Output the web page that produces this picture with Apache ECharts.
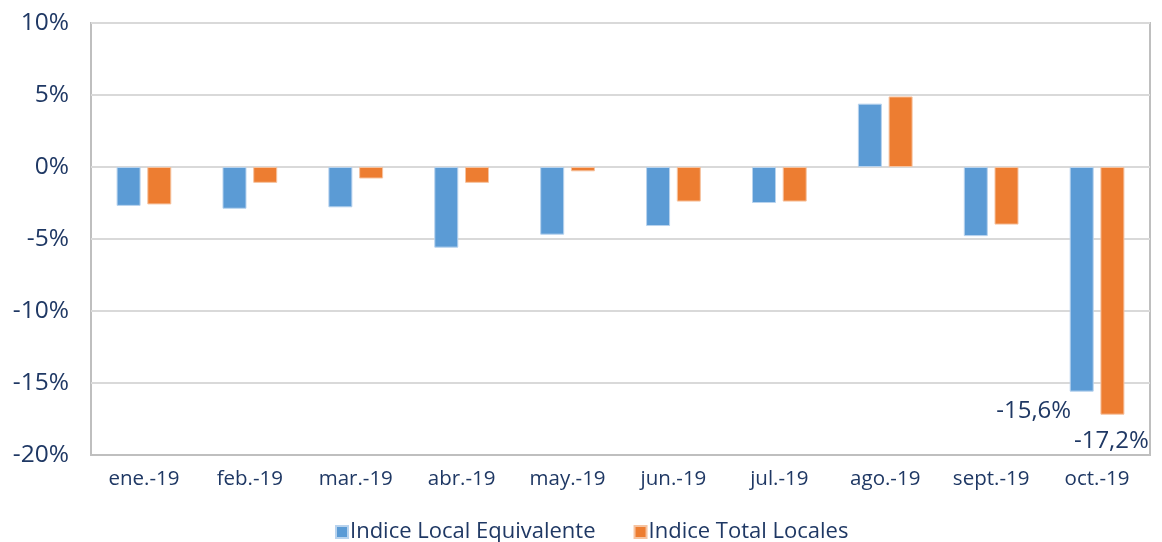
<!DOCTYPE html>
<html>
<head>
<meta charset="utf-8">
<script src="https://cdn.jsdelivr.net/npm/echarts@6/dist/echarts.min.js"></script>
<style>
  html, body { margin: 0; padding: 0; background: #fff; }
  #chart { width: 1162px; height: 542px; }
</style>
</head>
<body>
<div id="chart"></div>
<script>
// datos (en %)
var months = ['ene.-19', 'feb.-19', 'mar.-19', 'abr.-19', 'may.-19', 'jun.-19', 'jul.-19', 'ago.-19', 'sept.-19', 'oct.-19']
var localEquivalente = [-2.7, -2.9, -2.8, -5.6, -4.7, -4.1, -2.5, 4.4, -4.8, -15.6]
var totalLocales = [-2.6, -1.1, -0.8, -1.1, -0.3, -2.4, -2.4, 4.9, -4.0, -17.2]

var textColor = '#1f3864'
var font = '"Open Sans", "Noto Sans", sans-serif'

// solo el último mes lleva etiqueta
function lastLabel (values, offset) {
  return values.map(function (v, i) {
    if (i !== values.length - 1) return v
    return {
      value: v,
      label: {
        show: true,
        position: 'bottom',
        offset: offset,
        distance: 4,
        color: textColor,
        fontFamily: font,
        fontSize: 24,
        formatter: function (p) { return p.value.toFixed(1).replace('.', ',') + '%' }
      }
    }
  })
}

var chart = echarts.init(document.getElementById('chart'))
chart.setOption({
  animation: false,
  textStyle: { fontFamily: font },
  grid: {
    left: 91,
    right: 12,
    top: 23,
    bottom: 87,
    show: true,
    borderColor: '#bfbfbf',
    borderWidth: 2
  },
  legend: {
    left: 330,
    top: 516,
    itemWidth: 12,
    itemHeight: 12,
    itemGap: 38,
    icon: 'rect',
    textStyle: { color: textColor, fontSize: 22, fontFamily: font, padding: [0, 0, 0, -3] },
    data: ['Indice Local Equivalente', 'Indice Total Locales']
  },
  xAxis: {
    type: 'category',
    data: months,
    position: 'bottom',
    axisLine: { onZero: false, lineStyle: { color: '#bfbfbf', width: 2 } },
    axisTick: { show: false },
    axisLabel: { color: textColor, fontSize: 20.5, margin: 14, fontFamily: font }
  },
  yAxis: {
    type: 'value',
    min: -20,
    max: 10,
    interval: 5,
    axisLine: { show: false },
    axisTick: { show: false },
    axisLabel: {
      color: textColor,
      fontSize: 24.5,
      margin: 22,
      fontFamily: font,
      formatter: function (v) { return v + '%' }
    },
    splitLine: { lineStyle: { color: '#d9d9d9', width: 2 } }
  },
  series: [
    {
      name: 'Indice Local Equivalente',
      type: 'bar',
      barWidth: 24,
      barGap: '28%',
      itemStyle: { color: '#5b9bd5', borderColor: '#b8d3ee', borderWidth: 1 },
      data: lastLabel(localEquivalente, [-48, 4])
    },
    {
      name: 'Indice Total Locales',
      type: 'bar',
      barWidth: 24,
      itemStyle: { color: '#ed7d31', borderColor: '#f6c3a0', borderWidth: 1 },
      data: lastLabel(totalLocales, [-1, 10])
    }
  ]
})
</script>
</body>
</html>
